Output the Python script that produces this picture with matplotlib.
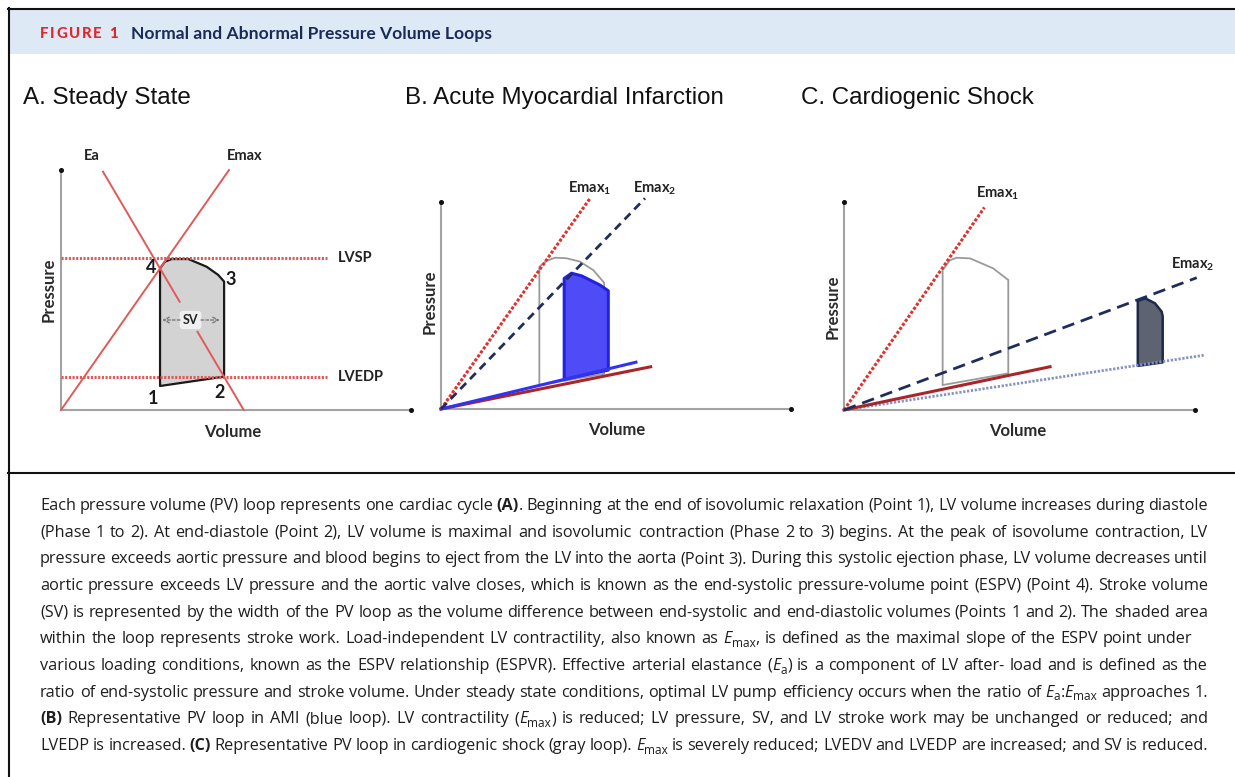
import matplotlib
matplotlib.use('Agg')
import matplotlib.pyplot as plt
from matplotlib.patches import Rectangle

W, H = 1235, 777

# ---- panel A: steady state (volume / pressure, 0-100 units)
a_loop_v = [28.3, 28.3, 29.7, 31.6, 36.4, 41.6, 44.9, 46.6, 46.6]
a_loop_p = [10.0, 59.0, 61.8, 62.9, 62.9, 59.7, 56.3, 53.5, 13.9]
a_lvsp = 63.3
a_lvedp = 13.9
a_emax = ([0, 48.0], [0, 100.0])
a_ea_top = ([12.0, 33.9], [99.3, 45.1])
a_ea_bot = ([39.0, 52.2], [32.6, 0.0])

# ---- panel B: acute MI
b_emax1 = (42.6, 101.8)
b_emax2 = (58.3, 101.8)
b_blue_line = (55.7, 22.6)
b_red_line = (59.9, 20.4)
b_gray_v = [28.1, 28.1, 30.2, 32.6, 35.9, 39.7, 43.5, 46.6, 46.6]
b_gray_p = [11.5, 68.7, 71.6, 73.1, 72.8, 71.2, 67.1, 61.0, 17.0]
b_blue_v = [35.2, 35.2, 37.3, 40.2, 45.4, 47.8, 47.8]
b_blue_p = [14.3, 63.1, 65.6, 64.3, 59.9, 57.1, 18.8]

# ---- panel C: cardiogenic shock
c_emax1 = (40.0, 97.4)
c_emax2 = (100.5, 63.6)
c_red_line = (58.7, 20.8)
c_dot_line = (102.8, 26.4)
c_gray_v = [28.1, 28.1, 30.2, 32.1, 35.9, 42.5, 46.8, 46.8]
c_gray_p = [12.0, 67.3, 72.0, 73.2, 72.9, 68.1, 62.5, 17.6]
c_shock_v = [83.7, 83.7, 85.8, 88.6, 90.5, 90.8, 90.8]
c_shock_p = [21.2, 52.4, 53.7, 51.3, 47.3, 45.0, 22.9]

titles = ['A. Steady State', 'B. Acute Myocardial Infarction', 'C. Cardiogenic Shock']

caption = [
    [('Each pressure volume (PV) loop represents one cardiac cycle ', 'n'), ('(A)', 'b'),
     ('. Beginning at the end of isovolumic relaxation (Point 1), LV volume increases during diastole', 'n')],
    [('(Phase 1 to 2). At end-diastole (Point 2), LV volume is maximal and isovolumic contraction '
      '(Phase 2 to 3) begins. At the peak of isovolume contraction, LV', 'n')],
    [('pressure exceeds aortic pressure and blood begins to eject from the LV into the aorta (Point 3). '
      'During this systolic ejection phase, LV volume decreases until', 'n')],
    [('aortic pressure exceeds LV pressure and the aortic valve closes, which is known as the '
      'end-systolic pressure-volume point (ESPV) (Point 4). Stroke volume', 'n')],
    [('(SV) is represented by the width of the PV loop as the volume difference between end-systolic '
      'and end-diastolic volumes (Points 1 and 2). The shaded area', 'n')],
    [('within the loop represents stroke work. Load-independent LV contractility, also known as ', 'n'),
     ('E', 'i'), ('max', 's'), (', is defined as the maximal slope of the ESPV point under', 'n')],
    [('various loading conditions, known as the ESPV relationship (ESPVR). Effective arterial elastance (', 'n'),
     ('E', 'i'), ('a', 's'), (') is a component of LV after- load and is defined as the', 'n')],
    [('ratio of end-systolic pressure and stroke volume. Under steady state conditions, optimal LV pump '
      'efficiency occurs when the ratio of ', 'n'), ('E', 'i'), ('a', 's'), (':', 'n'), ('E', 'i'),
     ('max', 's'), (' approaches 1.', 'n')],
    [('(B)', 'b'), (' Representative PV loop in AMI (blue loop). LV contractility (', 'n'), ('E', 'i'),
     ('max', 's'), (') is reduced; LV pressure, SV, and LV stroke work may be unchanged or reduced; and', 'n')],
    [('LVEDP is increased. ', 'n'), ('(C)', 'b'),
     (' Representative PV loop in cardiogenic shock (gray loop). ', 'n'), ('E', 'i'), ('max', 's'),
     (' is severely reduced; LVEDV and LVEDP are increased; and SV is reduced.', 'n')],
]
caption_right = [1208, 1208, 1208, 1208, 1208, 1175, 1208, 1208, 1208, 1208]

plt.rcParams['font.family'] = ['Lato', 'DejaVu Sans']

fig = plt.figure(figsize=(W / 100, H / 100), dpi=100)
bg = fig.add_axes([0, 0, 1, 1])
bg.set_xlim(0, W)
bg.set_ylim(H, 0)
bg.set_axis_off()

# header band and frame
bg.add_patch(Rectangle((8, 9), W - 8, 45, fc='#dde9f5', ec='none'))
bg.plot([8, W], [8.5, 8.5], color='#111111', lw=1.5)
bg.plot([8.5, 8.5], [8, H], color='#111111', lw=1.5)
bg.plot([8, W], [473, 473], color='#111111', lw=1.5)

renderer = fig.canvas.get_renderer()


def text_width(x, y, s, **kw):
    t = bg.text(x, y, s, **kw)
    return t, t.get_window_extent(renderer).width


# "FIGURE 1" with letter spacing
x = 40
for ch in 'FIGURE 1':
    t, w = text_width(x, 38.5, ch, color='#e2262e', fontsize=10.8, fontweight='black', va='baseline')
    x += (w if ch != ' ' else 3.5) + 1.7
bg.text(131, 38.5, 'Normal and Abnormal Pressure Volume Loops', color='#1b2b57', fontsize=12.6,
        fontweight='bold', va='baseline')

for tx, txt in zip([23, 405, 801], titles):
    bg.text(tx, 98, txt, fontsize=17.4, family='Liberation Sans', va='center', color='#111111')


def panel(x0, y0, w, h):
    ax = fig.add_axes([x0 / W, 1 - y0 / H, w / W, h / H])
    ax.set_xlim(0, 100)
    ax.set_ylim(0, 100)
    ax.set_axis_off()
    ax.plot([0, 0], [0, 100], color='#a3a3a3', lw=1.5, clip_on=False, zorder=1)
    ax.plot([0, 100], [0, 0], color='#a3a3a3', lw=1.5, clip_on=False, zorder=1)
    ax.plot([0, 100], [100, 0], 'o', ms=2.6, color='#111111', ls='none', clip_on=False, zorder=2)
    return ax


lab = dict(color='#222222', fontsize=10.5, fontweight='bold', clip_on=False)
axlab = dict(color='#2a2a2a', fontsize=12, fontweight='bold', clip_on=False, ha='center', va='center')
red = '#e05a5a'
navy = '#1e2d5c'
dred = '#a8262a'

# ---- A
axA = panel(61, 410, 350, 240)
axA.fill(a_loop_v, a_loop_p, fc='#d3d3d3', ec='#1a1a1a', lw=1.6, joinstyle='round', zorder=2)
for p in (a_lvsp, a_lvedp):
    axA.plot([0, 76], [p, p], color=red, lw=2.2, dashes=(0.7, 0.5), clip_on=False, zorder=3)
axA.plot(*a_emax, color=red, lw=1.4, clip_on=False, zorder=3)
axA.plot(*a_ea_top, color=red, lw=1.4, clip_on=False, zorder=3)
axA.plot(*a_ea_bot, color=red, lw=1.4, clip_on=False, zorder=3)
axA.text(79, a_lvsp, 'LVSP', va='center', **lab)
axA.text(79, a_lvedp, 'LVEDP', va='center', **lab)
axA.text(8.9, 106, 'Ea', ha='center', va='center', **lab)
axA.text(52.6, 106, 'Emax', ha='center', va='center', **lab)
for s, (v, p) in zip('1234', [(26.3, 4.6), (45.2, 7.1), (48.6, 54.2), (25.8, 59.4)]):
    axA.text(v, p, s, ha='center', va='center', fontsize=13, fontweight='bold', color='#1a1a1a', zorder=5)
axA.text(37.0, 37.5, 'SV', ha='center', va='center', fontsize=9, fontweight='bold', color='#222222',
         zorder=6, bbox=dict(boxstyle='round,pad=0.25', fc='#efefef', ec='none'))
for x_from, x_to in [(34.0, 28.9), (40.0, 45.4)]:
    axA.annotate('', xy=(x_to, 37.5), xytext=(x_from, 37.5), zorder=6,
                 arrowprops=dict(arrowstyle='->', color='#7a7a7a', lw=1.0, ls=(0, (2, 1.5)),
                                 shrinkA=0, shrinkB=0))
axA.text(-3.4, 50, 'Pressure', rotation=90, **axlab)
axA.text(49.1, -9.2, 'Volume', **axlab)

# ---- B
axB = panel(441, 409, 350, 207)
axB.fill(b_gray_v, b_gray_p, fc='none', ec='#9a9a9a', lw=1.3, zorder=2)
axB.fill(b_blue_v, b_blue_p, fc='#4f4cf7', ec='#2222e6', lw=2.2, joinstyle='round', zorder=3)
axB.plot([0, b_red_line[0]], [0, b_red_line[1]], color=dred, lw=2.2, clip_on=False, zorder=4)
axB.plot([0, b_blue_line[0]], [0, b_blue_line[1]], color='#3333ee', lw=2.2, clip_on=False, zorder=4)
axB.plot([0, b_emax1[0]], [0, b_emax1[1]], color='#e03030', lw=2.2, dashes=(1.0, 0.6),
         clip_on=False, zorder=5)
axB.plot([0, b_emax2[0]], [0, b_emax2[1]], color=navy, lw=2.0, dashes=(3.0, 2.0),
         clip_on=False, zorder=5)
axB.text(42.6, 106.5, r'Emax$_{\mathregular{1}}$', ha='center', va='center', **lab)
axB.text(61.1, 106.5, r'Emax$_{\mathregular{2}}$', ha='center', va='center', **lab)
axB.text(-3.2, 51.7, 'Pressure', rotation=90, **axlab)
axB.text(50.3, -10.1, 'Volume', **axlab)

# ---- C
axC = panel(844, 410, 351, 208)
axC.fill(c_gray_v, c_gray_p, fc='none', ec='#9a9a9a', lw=1.3, zorder=2)
axC.fill(c_shock_v, c_shock_p, fc='#5d6371', ec='#1d2a4a', lw=1.8, joinstyle='round', zorder=3)
axC.plot([0, c_dot_line[0]], [0, c_dot_line[1]], color='#8593c4', lw=2.0, dashes=(0.8, 0.6),
         clip_on=False, zorder=4)
axC.plot([0, c_red_line[0]], [0, c_red_line[1]], color=dred, lw=2.2, clip_on=False, zorder=4)
axC.plot([0, c_emax1[0]], [0, c_emax1[1]], color='#e03030', lw=2.2, dashes=(1.0, 0.6),
         clip_on=False, zorder=5)
axC.plot([0, c_emax2[0]], [0, c_emax2[1]], color=navy, lw=2.0, dashes=(4.5, 2.5),
         clip_on=False, zorder=5)
axC.text(43.9, 104.3, r'Emax$_{\mathregular{1}}$', ha='center', va='center', **lab)
axC.text(99.4, 70.2, r'Emax$_{\mathregular{2}}$', ha='center', va='center', **lab)
axC.text(-3.2, 49.5, 'Pressure', rotation=90, **axlab)
axC.text(49.6, -10.1, 'Volume', **axlab)

# ---- caption, justified word by word
cap_size = 11.7
styles = {
    'n': dict(fontsize=cap_size, color='#1e1e1e', family='Open Sans'),
    'b': dict(fontsize=cap_size, color='#1e1e1e', family='Open Sans', fontweight='bold'),
    'i': dict(fontsize=cap_size, color='#1e1e1e', family='Open Sans', style='italic'),
    's': dict(fontsize=cap_size * 0.72, color='#1e1e1e', family='Open Sans'),
}
t1, w1 = text_width(100, 300, 'nn', **styles['n'])
t2, w2 = text_width(100, 300, 'n n', **styles['n'])
space = w2 - w1
t1.remove()
t2.remove()

for i, runs in enumerate(caption):
    base = 510 + i * 26.65
    words = [[]]
    for txt, sty in runs:
        for k, part in enumerate(txt.split(' ')):
            if k > 0:
                words.append([])
            if part:
                words[-1].append((part, sty))
    words = [w for w in words if w]
    placed = []
    total = 0
    for word in words:
        pieces = []
        for part, sty in word:
            dy = 3.8 if sty == 's' else 0
            t, w = text_width(0, base + dy, part, va='baseline', **styles[sty])
            pieces.append((t, w))
            total += w
        placed.append(pieces)
    gap = (caption_right[i] - 40 - total) / (len(words) - 1)
    gap = max(gap, space * 0.7)
    if i == 5:
        gap = space + 0.6
    x = 40
    for pieces in placed:
        for t, w in pieces:
            t.set_x(x)
            x += w
        x += gap

fig.savefig('out.png', dpi=100)
